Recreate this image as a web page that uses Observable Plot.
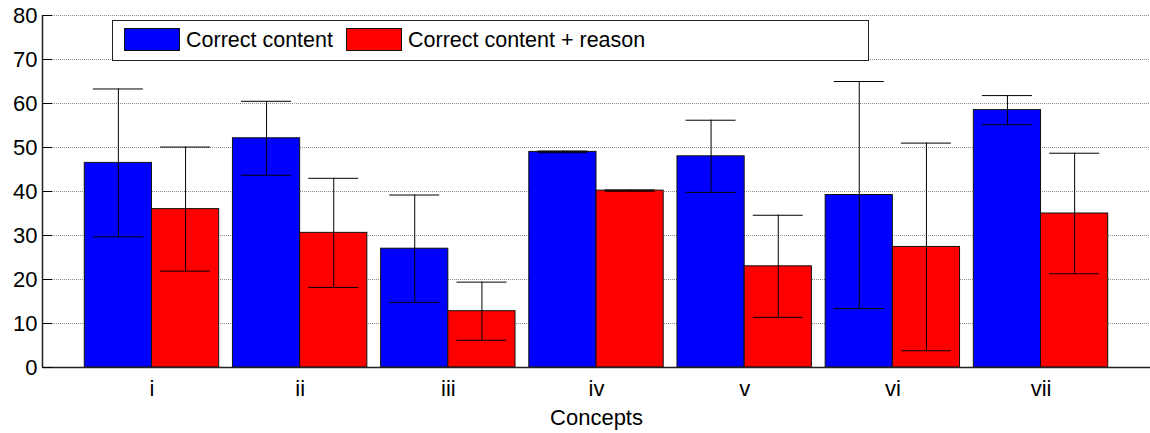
<!DOCTYPE html>
<html>
<head>
<meta charset="utf-8">
<script src="https://cdn.jsdelivr.net/npm/d3@7"></script>
<script src="https://cdn.jsdelivr.net/npm/@observablehq/plot@0.6"></script>
<style>
  html, body { margin: 0; padding: 0; background: #fff; }
  #wrap { position: relative; width: 1150px; height: 433px; font-family: "Liberation Sans", Arial, sans-serif; color: #000; }
  #wrap svg text { font-size: 22px; font-family: "Liberation Sans", Arial, sans-serif; }
  #legend { position: absolute; left: 112px; top: 20px; width: 755px; height: 39px; border: 1.5px solid #222; background: #fff; }
  #legend .sw { position: absolute; top: 7px; width: 56px; height: 23px; box-sizing: border-box; border: 1px solid #111; }
  #legend .lab { position: absolute; top: 0; line-height: 39px; font-size: 21.5px; white-space: nowrap; }
</style>
</head>
<body>
<div id="wrap"></div>
<script>
// ---- data ----
const concepts = ["i", "ii", "iii", "iv", "v", "vi", "vii"];
const seriesNames = ["Correct content", "Correct content + reason"];
const contentMean = [46.5, 52.1, 27.0, 49.0, 48.0, 39.2, 58.5];
const contentErr  = [16.8, 8.4, 12.2, 0.2, 8.2, 25.8, 3.3];
const reasonMean  = [36.0, 30.6, 12.8, 40.2, 23.0, 27.4, 35.0];
const reasonErr   = [14.1, 12.4, 6.6, 0.15, 11.6, 23.6, 13.7];
const yTicks = [0, 10, 20, 30, 40, 50, 60, 70, 80];
const xLabel = "Concepts";
const colors = ["#0000ff", "#ff0000"];

const content = concepts.map((c, i) => ({concept: c, value: contentMean[i], lo: contentMean[i] - contentErr[i], hi: contentMean[i] + contentErr[i]}));
const reason = concepts.map((c, i) => ({concept: c, value: reasonMean[i], lo: reasonMean[i] - reasonErr[i], hi: reasonMean[i] + reasonErr[i]}));

const xOpts = {type: "band", domain: concepts, range: [42, 1150], paddingInner: 0.093, paddingOuter: 0.2853, round: false};
const bw = Plot.scale({x: xOpts}).bandwidth;
const capHalf = 25;

const font = "'Liberation Sans', Arial, sans-serif";

const chart = Plot.plot({
  width: 1150,
  height: 433,
  marginLeft: 42,
  marginRight: 0,
  marginTop: 15,
  marginBottom: 66,
  style: {fontFamily: font, fontSize: "22px", color: "#000", background: "#fff", overflow: "visible"},
  x: {...xOpts, axis: null},
  y: {domain: [0, 80], axis: null},
  marks: [
    Plot.ruleY(yTicks, {stroke: "#8c8c8c", strokeDasharray: "1,1"}),
    Plot.barY(content, {x: "concept", y: "value", fill: colors[0], stroke: "#111", strokeWidth: 1, insetRight: bw / 2}),
    Plot.barY(reason, {x: "concept", y: "value", fill: colors[1], stroke: "#111", strokeWidth: 1, insetLeft: bw / 2}),
    Plot.ruleX(content, {x: "concept", y1: "lo", y2: "hi", dx: -bw / 4, stroke: "#000"}),
    Plot.tickY(content, {x: "concept", y: "hi", stroke: "#000", insetLeft: bw / 4 - capHalf, insetRight: 3 * bw / 4 - capHalf}),
    Plot.tickY(content, {x: "concept", y: "lo", stroke: "#000", insetLeft: bw / 4 - capHalf, insetRight: 3 * bw / 4 - capHalf}),
    Plot.ruleX(reason, {x: "concept", y1: "lo", y2: "hi", dx: bw / 4, stroke: "#000"}),
    Plot.tickY(reason, {x: "concept", y: "hi", stroke: "#000", insetLeft: 3 * bw / 4 - capHalf, insetRight: bw / 4 - capHalf}),
    Plot.tickY(reason, {x: "concept", y: "lo", stroke: "#000", insetLeft: 3 * bw / 4 - capHalf, insetRight: bw / 4 - capHalf}),
    Plot.ruleY([0], {stroke: "#222", strokeWidth: 1.5}),
    Plot.axisY({ticks: yTicks, tickSize: -10, tickPadding: 15, tickFormat: d => String(d), label: null}),
    Plot.axisX({tickSize: 0, tickPadding: 13, label: null}),
    Plot.text([xLabel], {text: d => d, frameAnchor: "bottom", lineAnchor: "middle", dy: 50, fill: "#000"})
  ]
});

// y-axis line along the left edge of the frame, from the plot's own scales
const xs = chart.scale("x"), ys = chart.scale("y");
d3.select(chart).append("line")
  .attr("x1", xs.range[0] + 0.5).attr("x2", xs.range[0] + 0.5)
  .attr("y1", ys.apply(80)).attr("y2", ys.apply(0))
  .attr("stroke", "#222").attr("stroke-width", 1.5);

const wrap = document.getElementById("wrap");
wrap.appendChild(chart);

// legend (inside the plot area, as in the reference)
const legend = document.createElement("div");
legend.id = "legend";
const swLeft = [11, 233];
const labLeft = [73, 295];
seriesNames.forEach((name, i) => {
  const sw = document.createElement("div");
  sw.className = "sw";
  sw.style.left = swLeft[i] + "px";
  sw.style.background = colors[i];
  legend.appendChild(sw);
  const lab = document.createElement("div");
  lab.className = "lab";
  lab.style.left = labLeft[i] + "px";
  lab.textContent = name;
  legend.appendChild(lab);
});
wrap.appendChild(legend);
</script>
</body>
</html>
